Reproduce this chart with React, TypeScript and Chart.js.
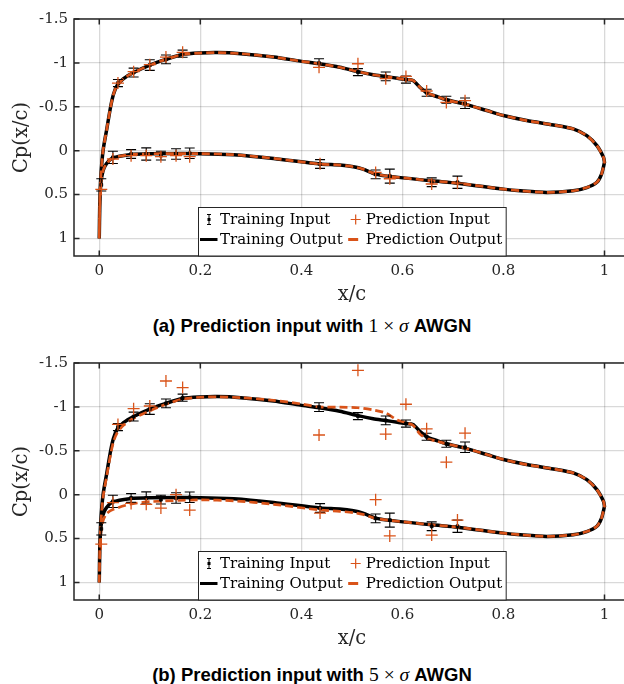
import React, { useEffect, useRef } from "react";
import { Chart, registerables } from "chart.js";

Chart.register(...registerables);

const ORANGE = "#D95319";
const AXIS = "#262626";
const SERIF = "'DejaVu Serif', 'Liberation Serif', serif";

// ---- tick values
const xTicks = [0, 0.2, 0.4, 0.6, 0.8, 1];
const yTicks = [-1.5, -1, -0.5, 0, 0.5, 1];

// ---- pressure tap locations (x/c)
const tapXUpper = [0.037, 0.068, 0.1, 0.132, 0.165, 0.435, 0.512, 0.567, 0.607, 0.648, 0.687, 0.724];
const tapXLower = [0.004, 0.027, 0.063, 0.093, 0.122, 0.152, 0.179, 0.437, 0.547, 0.575, 0.658, 0.709];

// ---- training input (mean and error half-width)
const trainCpUpper = [-0.77, -0.89, -0.975, -1.04, -1.105, -0.998, -0.895, -0.846, -0.81, -0.66, -0.58, -0.54];
const trainErrUpper = [0.04, 0.05, 0.06, 0.05, 0.04, 0.05, 0.04, 0.05, 0.04, 0.04, 0.04, 0.06];
const trainCpLower = [0.39, 0.076, 0.038, 0.038, 0.057, 0.038, 0.03, 0.152, 0.27, 0.29, 0.36, 0.36];
const trainErrLower = [0.07, 0.07, 0.05, 0.07, 0.05, 0.06, 0.06, 0.05, 0.05, 0.08, 0.05, 0.07];

// ---- prediction input, 1 sigma AWGN
const pred1CpUpper = [-0.77, -0.9, -0.98, -1.066, -1.12, -0.95, -0.99, -0.82, -0.846, -0.68, -0.55, -0.57];
const pred1CpLower = [0.44, 0.095, 0.057, 0.057, 0.069, 0.057, 0.069, 0.15, 0.248, 0.32, 0.38, 0.37];

// ---- prediction input, 5 sigma AWGN
const pred5CpUpper = [-0.8, -0.98, -1.01, -1.295, -1.22, -0.68, -1.417, -0.69, -1.03, -0.75, -0.37, -0.7];
const pred5CpLower = [0.563, 0.09, 0.1, 0.11, 0.153, 0.0, 0.175, 0.21, 0.057, 0.47, 0.46, 0.29];

// ---- output curves (upper surface, LE -> TE)
const outUpperX = [0, 0.001, 0.003, 0.0075, 0.015, 0.0225, 0.028, 0.035, 0.048, 0.068, 0.1, 0.132, 0.165, 0.2, 0.233, 0.28, 0.345, 0.398, 0.435, 0.476, 0.512, 0.542, 0.567, 0.59, 0.607, 0.621, 0.635, 0.648, 0.668, 0.687, 0.724, 0.767, 0.8, 0.846, 0.899, 0.938, 0.965, 0.985, 0.998, 1.0];
const trainOutUpperCp = [1.0, 0.6, 0.3, 0.0, -0.25, -0.5, -0.64, -0.74, -0.82, -0.89, -0.975, -1.04, -1.095, -1.112, -1.117, -1.105, -1.067, -1.02, -0.99, -0.95, -0.9, -0.865, -0.845, -0.825, -0.81, -0.8, -0.72, -0.66, -0.617, -0.58, -0.53, -0.457, -0.4, -0.343, -0.293, -0.248, -0.171, -0.057, 0.076, 0.133];
const pred5OutUpperCp = [1.0, 0.62, 0.33, 0.03, -0.22, -0.46, -0.6, -0.7, -0.79, -0.87, -0.955, -1.03, -1.09, -1.11, -1.115, -1.105, -1.075, -1.035, -1.0, -0.997, -0.99, -0.965, -0.93, -0.85, -0.82, -0.79, -0.69, -0.64, -0.61, -0.58, -0.53, -0.457, -0.4, -0.343, -0.293, -0.248, -0.171, -0.057, 0.076, 0.133];

// ---- output curves (lower surface, LE -> TE)
const outLowerX = [0, 0.001, 0.003, 0.0075, 0.014, 0.027, 0.06, 0.1, 0.2, 0.266, 0.345, 0.437, 0.476, 0.503, 0.522, 0.547, 0.575, 0.658, 0.709, 0.8, 0.833, 0.886, 0.938, 0.965, 0.985, 0.994, 1.0];
const trainOutLowerCp = [1.0, 0.65, 0.38, 0.23, 0.15, 0.083, 0.046, 0.036, 0.034, 0.046, 0.088, 0.152, 0.164, 0.183, 0.21, 0.267, 0.293, 0.343, 0.37, 0.438, 0.457, 0.476, 0.457, 0.42, 0.36, 0.27, 0.133];
const pred5OutLowerCp = [1.0, 0.7, 0.45, 0.3, 0.22, 0.17, 0.11, 0.08, 0.06, 0.07, 0.11, 0.175, 0.19, 0.205, 0.225, 0.27, 0.293, 0.343, 0.37, 0.438, 0.457, 0.476, 0.457, 0.42, 0.36, 0.27, 0.133];

const LABELS = ["Training Input", "Prediction Input", "Training Output", "Prediction Output"];

function pts(xs: number[], ys: number[]) {
  return xs.map((x, i) => ({ x, y: ys[i] }));
}
function loop(ux: number[], uy: number[], lx: number[], ly: number[]) {
  const upper = pts(ux, uy);
  const lower = pts(lx, ly).reverse();
  return upper.concat(lower);
}

// ---- plugins
const errorBarPlugin = {
  id: "errorBars",
  afterDatasetDraw(chart: any, args: any) {
    const ds = chart.data.datasets[args.index];
    if (!ds.errors) return;
    const { ctx } = chart;
    const xs = chart.scales.x;
    const ys = chart.scales.y;
    ctx.save();
    ctx.strokeStyle = "#000";
    ctx.lineWidth = 1.1;
    ds.data.forEach((p: any, i: number) => {
      const e = ds.errors[i];
      const px = xs.getPixelForValue(p.x);
      const y1 = ys.getPixelForValue(p.y - e);
      const y2 = ys.getPixelForValue(p.y + e);
      ctx.beginPath();
      ctx.moveTo(px, y1);
      ctx.lineTo(px, y2);
      ctx.moveTo(px - 5, y1);
      ctx.lineTo(px + 5, y1);
      ctx.moveTo(px - 5, y2);
      ctx.lineTo(px + 5, y2);
      ctx.stroke();
    });
    ctx.restore();
  },
};

const framePlugin = {
  id: "frame",
  afterDatasetsDraw(chart: any) {
    const { ctx, chartArea: a } = chart;
    const xs = chart.scales.x;
    const ys = chart.scales.y;
    const tl = 5.5;
    ctx.save();
    ctx.strokeStyle = AXIS;
    ctx.lineWidth = 1.5;
    ctx.strokeRect(a.left, a.top, a.right - a.left, a.bottom - a.top);
    ctx.beginPath();
    xTicks.forEach((v) => {
      const px = xs.getPixelForValue(v);
      ctx.moveTo(px, a.bottom);
      ctx.lineTo(px, a.bottom - tl);
      ctx.moveTo(px, a.top);
      ctx.lineTo(px, a.top + tl);
    });
    yTicks.forEach((v) => {
      const py = ys.getPixelForValue(v);
      ctx.moveTo(a.left, py);
      ctx.lineTo(a.left + tl, py);
      ctx.moveTo(a.right, py);
      ctx.lineTo(a.right - tl, py);
    });
    ctx.stroke();
    ctx.restore();
  },
};

const boxLegendPlugin = {
  id: "boxLegend",
  afterDraw(chart: any) {
    const { ctx, chartArea: a } = chart;
    const labels = chart.data.datasets.map((d: any) => d.label);
    ctx.save();
    ctx.font = `15px ${SERIF}`;
    const w1 = Math.max(ctx.measureText(labels[0]).width, ctx.measureText(labels[2]).width);
    const w2 = Math.max(ctx.measureText(labels[1]).width, ctx.measureText(labels[3]).width);
    const g1 = 21.5;
    const g2 = 18;
    const width = g1 + w1 + 5 + g2 + w2 + 4;
    const height = 48.5;
    const cx = (a.left + a.right) / 2;
    const left = Math.round(cx - width / 2) + 0.5;
    const bottom = a.bottom;
    const top = bottom - height;
    ctx.fillStyle = "#fff";
    ctx.fillRect(left, top, width, height);
    ctx.strokeStyle = AXIS;
    ctx.lineWidth = 1;
    ctx.strokeRect(left, top, width, height);

    const r1 = top + 12;
    const r2 = top + 32;
    const c2 = left + g1 + w1 + 5;

    // Training Input glyph (errorbar)
    const gx = left + 10.5;
    ctx.strokeStyle = "#000";
    ctx.lineWidth = 1;
    ctx.beginPath();
    ctx.moveTo(gx, r1 - 5);
    ctx.lineTo(gx, r1 + 5);
    ctx.moveTo(gx - 2, r1 - 5);
    ctx.lineTo(gx + 2, r1 - 5);
    ctx.moveTo(gx - 2, r1 + 5);
    ctx.lineTo(gx + 2, r1 + 5);
    ctx.stroke();
    ctx.fillStyle = "#000";
    ctx.fillRect(gx - 1.5, r1 - 1.5, 3, 3);

    // Prediction Input glyph (+)
    const px = c2 + 8;
    ctx.strokeStyle = ORANGE;
    ctx.lineWidth = 1.2;
    ctx.beginPath();
    ctx.moveTo(px - 5, r1);
    ctx.lineTo(px + 5, r1);
    ctx.moveTo(px, r1 - 5);
    ctx.lineTo(px, r1 + 5);
    ctx.stroke();

    // Training Output glyph
    ctx.strokeStyle = "#000";
    ctx.lineWidth = 3;
    ctx.beginPath();
    ctx.moveTo(left + 1.5, r2);
    ctx.lineTo(left + 19, r2);
    ctx.stroke();

    // Prediction Output glyph
    ctx.strokeStyle = ORANGE;
    ctx.lineWidth = 3;
    ctx.beginPath();
    ctx.moveTo(c2 + 0.5, r2);
    ctx.lineTo(c2 + 10.5, r2);
    ctx.stroke();

    ctx.fillStyle = "#000";
    ctx.textBaseline = "middle";
    ctx.textAlign = "left";
    ctx.fillText(labels[0], left + g1, r1 + 1);
    ctx.fillText(labels[2], left + g1, r2 + 1);
    ctx.fillText(labels[1], c2 + g2, r1 + 1);
    ctx.fillText(labels[3], c2 + g2, r2 + 1);
    ctx.restore();
  },
};

function makeConfig(predUpper: number[], predLower: number[], predOutUpper: number[], predOutLower: number[]): any {
  return {
    type: "scatter",
    data: {
      datasets: [
        {
          label: LABELS[0],
          data: pts(tapXUpper, trainCpUpper).concat(pts(tapXLower, trainCpLower)),
          errors: trainErrUpper.concat(trainErrLower),
          pointStyle: "rect",
          pointRadius: 2,
          backgroundColor: "#000",
          borderColor: "#000",
          borderWidth: 0.8,
          order: 1,
        },
        {
          label: LABELS[1],
          data: pts(tapXUpper, predUpper).concat(pts(tapXLower, predLower)),
          pointStyle: "cross",
          pointRadius: 6,
          borderColor: ORANGE,
          backgroundColor: ORANGE,
          borderWidth: 1.3,
          order: 0,
        },
        {
          label: LABELS[2],
          data: loop(outUpperX, trainOutUpperCp, outLowerX, trainOutLowerCp),
          showLine: true,
          pointRadius: 0,
          borderColor: "#000",
          borderWidth: 3.5,
          tension: 0.25,
          order: 3,
        },
        {
          label: LABELS[3],
          data: loop(outUpperX, predOutUpper, outLowerX, predOutLower),
          showLine: true,
          pointRadius: 0,
          borderColor: ORANGE,
          borderWidth: 2.7,
          borderDash: [8, 4],
          tension: 0.25,
          order: 2,
        },
      ],
    },
    options: {
      responsive: false,
      animation: false,
      devicePixelRatio: 1,
      events: [],
      layout: { padding: { left: 0, right: 10.25, top: 19, bottom: 0 } },
      plugins: {
        legend: { display: false },
        tooltip: { enabled: false },
        title: { display: false },
      },
      scales: {
        x: {
          type: "linear",
          min: -0.05,
          max: 1.05,
          afterBuildTicks: (s: any) => {
            s.ticks = xTicks.map((v) => ({ value: v }));
          },
          afterFit: (s: any) => {
            s.height = 54;
          },
          grid: { color: "rgba(0,0,0,0.15)", lineWidth: 1.3, drawTicks: false },
          border: { display: false },
          ticks: {
            font: { family: SERIF, size: 15 },
            color: AXIS,
            padding: 6,
            maxRotation: 0,
            autoSkip: false,
            callback: (v: any) => String(v),
          },
          title: {
            display: true,
            text: "x/c",
            font: { family: SERIF, size: 19.5 },
            color: AXIS,
            padding: { top: 0, bottom: 3 },
          },
        },
        y: {
          type: "linear",
          reverse: true,
          min: -1.5,
          max: 1.2,
          afterBuildTicks: (s: any) => {
            s.ticks = yTicks.map((v) => ({ value: v }));
          },
          afterFit: (s: any) => {
            s.width = 74;
          },
          grid: { color: "rgba(0,0,0,0.15)", lineWidth: 1.3, drawTicks: false },
          border: { display: false },
          ticks: {
            font: { family: SERIF, size: 15 },
            color: AXIS,
            padding: 6,
            autoSkip: false,
            callback: (v: any) => String(v),
          },
          title: {
            display: true,
            text: "Cp(x/c)",
            font: { family: SERIF, size: 19.5 },
            color: AXIS,
            padding: { top: 10, bottom: 0 },
          },
        },
      },
    },
    plugins: [errorBarPlugin, framePlugin, boxLegendPlugin],
  };
}

function Plot(props: { top: number; config: () => any }) {
  const ref = useRef<HTMLCanvasElement | null>(null);
  useEffect(() => {
    const chart = new Chart(ref.current as HTMLCanvasElement, props.config());
    return () => chart.destroy();
  }, []);
  return (
    <canvas
      ref={ref}
      width={640}
      height={310}
      style={{ position: "absolute", left: 0, top: props.top, width: 640, height: 310 }}
    />
  );
}

function Caption(props: { top: number; tag: string; k: string }) {
  return (
    <div
      style={{
        position: "absolute",
        left: 0,
        top: props.top,
        width: 624,
        textAlign: "center",
        fontFamily: "'Liberation Sans', Arial, sans-serif",
        fontWeight: "bold",
        fontSize: 18.5,
        lineHeight: "22px",
        color: "#000",
        whiteSpace: "nowrap",
      }}
    >
      {`(${props.tag}) Prediction input with `}
      <span style={{ fontFamily: "'Liberation Serif', serif", fontWeight: "normal", fontSize: 19.5 }}>
        {props.k} × <i>σ</i>
      </span>
      {" AWGN"}
    </div>
  );
}

export default function App() {
  return (
    <div
      style={{
        position: "fixed",
        left: 0,
        top: 0,
        width: 624,
        height: 684,
        overflow: "hidden",
        background: "#fff",
      }}
    >
      <Plot top={0} config={() => makeConfig(pred1CpUpper, pred1CpLower, trainOutUpperCp, trainOutLowerCp)} />
      <Caption top={315} tag="a" k="1" />
      <Plot top={344} config={() => makeConfig(pred5CpUpper, pred5CpLower, pred5OutUpperCp, pred5OutLowerCp)} />
      <Caption top={664} tag="b" k="5" />
    </div>
  );
}
